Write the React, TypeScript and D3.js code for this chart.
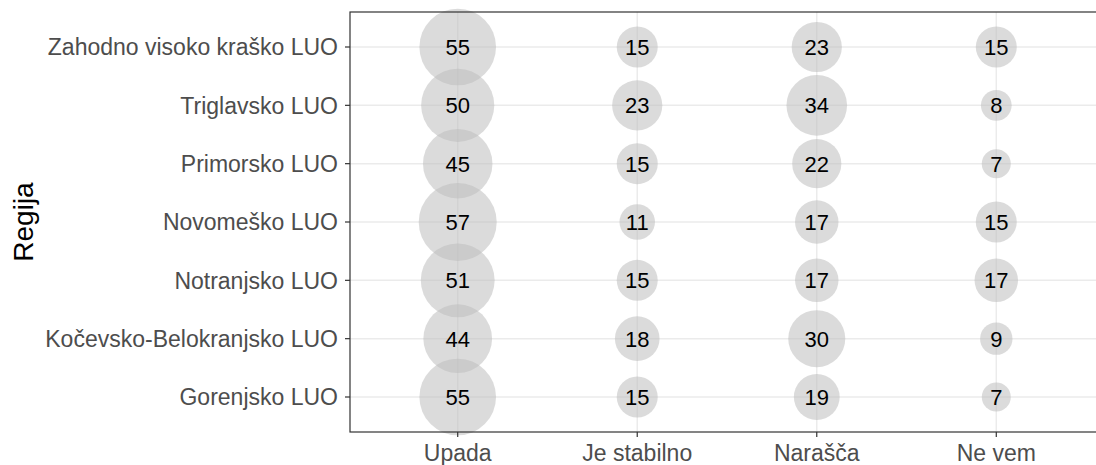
import React from "react";
import * as d3 from "d3";

const regions = [
  "Zahodno visoko kraško LUO",
  "Triglavsko LUO",
  "Primorsko LUO",
  "Novomeško LUO",
  "Notranjsko LUO",
  "Kočevsko-Belokranjsko LUO",
  "Gorenjsko LUO",
];
const answers = ["Upada", "Je stabilno", "Narašča", "Ne vem"];
const upada = [55, 50, 45, 57, 51, 44, 55];
const stabilno = [15, 23, 15, 11, 15, 18, 15];
const narasca = [23, 34, 22, 17, 17, 30, 19];
const neVem = [15, 8, 7, 15, 17, 9, 7];
const seriesValues = [upada, stabilno, narasca, neVem];

const W = 1096;
const H = 465;
const panel = { left: 350, top: 12, right: 1104, bottom: 432 };

export default function App() {
  const x = d3
    .scalePoint<string>()
    .domain(answers)
    .range([panel.left, panel.right])
    .padding(0.6);
  const y = d3
    .scalePoint<string>()
    .domain(regions)
    .range([panel.top, panel.bottom])
    .padding(0.6);

  const all = seriesValues.flat();
  const area = d3
    .scaleLinear()
    .domain([d3.min(all)!, d3.max(all)!])
    .range([14.5 * 14.5, 39 * 39]);
  const r = (v: number) => Math.sqrt(area(v));

  const points: { a: string; reg: string; v: number }[] = [];
  answers.forEach((a, i) =>
    regions.forEach((reg, j) => points.push({ a, reg, v: seriesValues[i][j] }))
  );

  const font = "Liberation Sans, Arial, sans-serif";

  return (
    <svg
      width={W}
      height={H}
      style={{ position: "absolute", left: 0, top: 0, background: "#fff" }}
      fontFamily={font}
    >
      <rect x={0} y={0} width={W} height={H} fill="#fff" />
      {/* grid */}
      {regions.map((reg) => (
        <line
          key={"gy" + reg}
          x1={panel.left}
          x2={panel.right}
          y1={y(reg)}
          y2={y(reg)}
          stroke="#ebebeb"
          strokeWidth={1.5}
        />
      ))}
      {answers.map((a) => (
        <line
          key={"gx" + a}
          x1={x(a)}
          x2={x(a)}
          y1={panel.top}
          y2={panel.bottom}
          stroke="#ebebeb"
          strokeWidth={1.5}
        />
      ))}
      {/* bubbles */}
      {points.map((p, i) => (
        <circle
          key={"c" + i}
          cx={x(p.a)}
          cy={y(p.reg)}
          r={r(p.v)}
          fill="#bebebe"
          fillOpacity={0.55}
        />
      ))}
      {points.map((p, i) => (
        <text
          key={"t" + i}
          x={x(p.a)}
          y={y(p.reg)}
          dy="0.36em"
          textAnchor="middle"
          fontSize={22}
          fill="#000"
        >
          {p.v}
        </text>
      ))}
      {/* panel border */}
      <rect
        x={panel.left}
        y={panel.top}
        width={panel.right - panel.left}
        height={panel.bottom - panel.top}
        fill="none"
        stroke="#333333"
        strokeWidth={1.2}
      />
      {/* y axis ticks & labels */}
      {regions.map((reg) => (
        <g key={"yt" + reg}>
          <line
            x1={panel.left - 5}
            x2={panel.left}
            y1={y(reg)}
            y2={y(reg)}
            stroke="#333333"
            strokeWidth={1.2}
          />
          <text
            x={panel.left - 12}
            y={y(reg)}
            dy="0.36em"
            textAnchor="end"
            fontSize={23}
            fill="#4d4d4d"
          >
            {reg}
          </text>
        </g>
      ))}
      {/* x axis ticks & labels */}
      {answers.map((a) => (
        <g key={"xt" + a}>
          <line
            x1={x(a)}
            x2={x(a)}
            y1={panel.bottom}
            y2={panel.bottom + 5}
            stroke="#333333"
            strokeWidth={1.2}
          />
          <text
            x={x(a)}
            y={panel.bottom + 29}
            textAnchor="middle"
            fontSize={23}
            fill="#4d4d4d"
          >
            {a}
          </text>
        </g>
      ))}
      <text
        transform={`translate(${33},${(panel.top + panel.bottom) / 2}) rotate(-90)`}
        textAnchor="middle"
        fontSize={28}
        fill="#000"
      >
        Regija
      </text>
    </svg>
  );
}
